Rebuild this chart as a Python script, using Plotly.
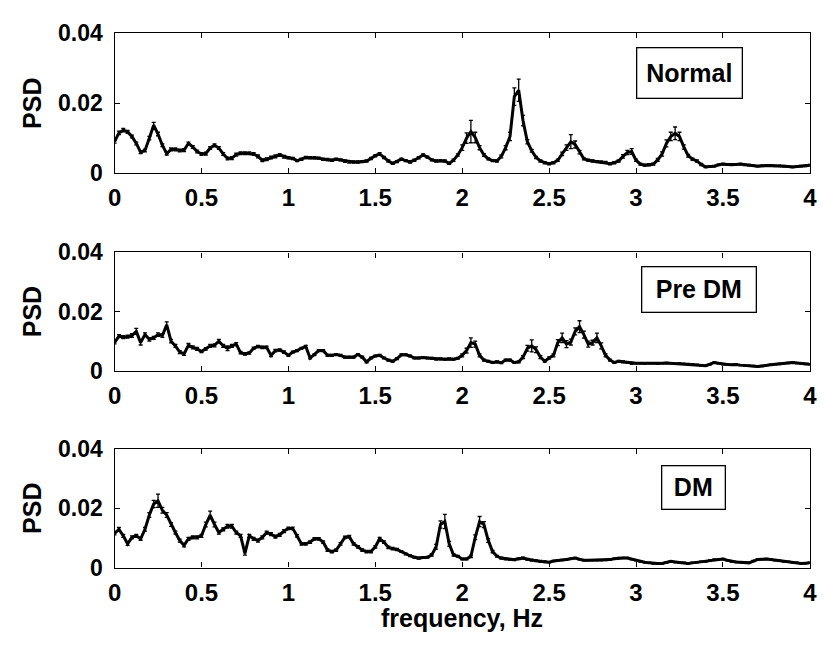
import plotly.graph_objects as go

# frequency grid (Hz), 0.025 Hz spacing
freq = [round(i * 0.025, 3) for i in range(161)]

psd_normal = [
    0.0090, 0.0115, 0.0123, 0.0118, 0.0105, 0.0085, 0.0060, 0.0065, 0.0100, 0.0137, 0.0112, 0.0080, 0.0056, 0.0068, 0.0068, 0.0065, 0.0066, 0.0085, 0.0075, 0.0062,
    0.0055, 0.0056, 0.0072, 0.0080, 0.0072, 0.0055, 0.0042, 0.0043, 0.0053, 0.0057, 0.0057, 0.0057, 0.0055, 0.0048, 0.0037, 0.0040, 0.0045, 0.0048, 0.0052, 0.0047,
    0.0044, 0.0042, 0.0036, 0.0040, 0.0045, 0.0044, 0.0044, 0.0043, 0.0040, 0.0039, 0.0037, 0.0040, 0.0038, 0.0034, 0.0032, 0.0032, 0.0032, 0.0033, 0.0035, 0.0042,
    0.0050, 0.0055, 0.0045, 0.0035, 0.0028, 0.0033, 0.0040, 0.0036, 0.0032, 0.0037, 0.0044, 0.0052, 0.0046, 0.0038, 0.0035, 0.0036, 0.0035, 0.0028, 0.0037, 0.0052,
    0.0073, 0.0100, 0.0119, 0.0102, 0.0073, 0.0052, 0.0041, 0.0036, 0.0035, 0.0048, 0.0073, 0.0105, 0.0219, 0.0237, 0.0150, 0.0090, 0.0064, 0.0045, 0.0035, 0.0030,
    0.0027, 0.0030, 0.0037, 0.0055, 0.0073, 0.0090, 0.0082, 0.0060, 0.0041, 0.0037, 0.0035, 0.0033, 0.0032, 0.0031, 0.0027, 0.0030, 0.0035, 0.0048, 0.0059, 0.0062,
    0.0037, 0.0026, 0.0023, 0.0024, 0.0026, 0.0038, 0.0055, 0.0085, 0.0105, 0.0114, 0.0105, 0.0075, 0.0050, 0.0040, 0.0035, 0.0025, 0.0018, 0.0019, 0.0020, 0.0024,
    0.0026, 0.0025, 0.0024, 0.0025, 0.0026, 0.0024, 0.0023, 0.0022, 0.0020, 0.0021, 0.0022, 0.0022, 0.0021, 0.0021, 0.0020, 0.0019, 0.0018, 0.0019, 0.0020, 0.0021, 0.0023,
]
err_normal = [
    0.0004, 0.0005, 0.0005, 0.0004, 0.0004, 0.0004, 0.0004, 0.0004, 0.0005, 0.0008, 0.0005, 0.0004, 0.0004, 0.0004, 0.0004, 0.0004, 0.0004, 0.0004, 0.0004, 0.0004,
    0.0004, 0.0004, 0.0004, 0.0004, 0.0004, 0.0004, 0.0004, 0.0004, 0.0004, 0.0004, 0.0004, 0.0004, 0.0004, 0.0004, 0.0004, 0.0004, 0.0004, 0.0004, 0.0004, 0.0004,
    0.0003, 0.0003, 0.0003, 0.0003, 0.0003, 0.0003, 0.0003, 0.0003, 0.0003, 0.0003, 0.0003, 0.0003, 0.0003, 0.0003, 0.0003, 0.0003, 0.0003, 0.0003, 0.0003, 0.0003,
    0.0003, 0.0004, 0.0003, 0.0003, 0.0003, 0.0003, 0.0003, 0.0003, 0.0003, 0.0003, 0.0003, 0.0003, 0.0003, 0.0003, 0.0003, 0.0003, 0.0003, 0.0003, 0.0003, 0.0003,
    0.0008, 0.0015, 0.0032, 0.0015, 0.0006, 0.0004, 0.0003, 0.0003, 0.0003, 0.0004, 0.0006, 0.0012, 0.0025, 0.0032, 0.0015, 0.0006, 0.0004, 0.0003, 0.0003, 0.0003,
    0.0003, 0.0003, 0.0003, 0.0005, 0.0008, 0.0020, 0.0010, 0.0005, 0.0003, 0.0003, 0.0003, 0.0003, 0.0003, 0.0003, 0.0003, 0.0003, 0.0003, 0.0005, 0.0006, 0.0008,
    0.0003, 0.0003, 0.0003, 0.0003, 0.0003, 0.0004, 0.0006, 0.0010, 0.0012, 0.0018, 0.0012, 0.0006, 0.0004, 0.0003, 0.0003, 0.0003, 0.0002, 0.0002, 0.0002, 0.0002,
    0.0002, 0.0002, 0.0002, 0.0002, 0.0002, 0.0002, 0.0002, 0.0002, 0.0002, 0.0002, 0.0002, 0.0002, 0.0002, 0.0002, 0.0002, 0.0002, 0.0002, 0.0002, 0.0002, 0.0002, 0.0002,
]

psd_predm = [
    0.0095, 0.0117, 0.0114, 0.0115, 0.0119, 0.0133, 0.0095, 0.0122, 0.0106, 0.0111, 0.0122, 0.0119, 0.0155, 0.0100, 0.0084, 0.0063, 0.0057, 0.0086, 0.0079, 0.0074,
    0.0065, 0.0074, 0.0084, 0.0086, 0.0100, 0.0084, 0.0076, 0.0084, 0.0090, 0.0061, 0.0057, 0.0060, 0.0076, 0.0082, 0.0079, 0.0079, 0.0052, 0.0068, 0.0070, 0.0063,
    0.0052, 0.0063, 0.0068, 0.0076, 0.0082, 0.0043, 0.0054, 0.0068, 0.0068, 0.0052, 0.0052, 0.0055, 0.0052, 0.0046, 0.0046, 0.0046, 0.0055, 0.0046, 0.0030, 0.0043,
    0.0050, 0.0052, 0.0043, 0.0036, 0.0032, 0.0041, 0.0054, 0.0054, 0.0050, 0.0043, 0.0043, 0.0045, 0.0043, 0.0042, 0.0039, 0.0040, 0.0039, 0.0040, 0.0039, 0.0042,
    0.0052, 0.0068, 0.0095, 0.0090, 0.0052, 0.0036, 0.0032, 0.0028, 0.0030, 0.0027, 0.0036, 0.0036, 0.0028, 0.0030, 0.0046, 0.0076, 0.0084, 0.0071, 0.0046, 0.0032,
    0.0043, 0.0052, 0.0095, 0.0111, 0.0090, 0.0097, 0.0133, 0.0149, 0.0122, 0.0090, 0.0095, 0.0111, 0.0084, 0.0052, 0.0036, 0.0028, 0.0032, 0.0030, 0.0028, 0.0025,
    0.0025, 0.0025, 0.0024, 0.0025, 0.0025, 0.0024, 0.0025, 0.0026, 0.0025, 0.0024, 0.0025, 0.0024, 0.0023, 0.0022, 0.0020, 0.0018, 0.0017, 0.0022, 0.0028, 0.0025,
    0.0022, 0.0021, 0.0020, 0.0021, 0.0019, 0.0018, 0.0017, 0.0016, 0.0014, 0.0016, 0.0019, 0.0020, 0.0022, 0.0023, 0.0025, 0.0026, 0.0028, 0.0026, 0.0025, 0.0023, 0.0022,
]
err_predm = [
    0.0004, 0.0005, 0.0005, 0.0005, 0.0006, 0.0010, 0.0008, 0.0006, 0.0006, 0.0005, 0.0006, 0.0006, 0.0010, 0.0006, 0.0005, 0.0005, 0.0005, 0.0006, 0.0005, 0.0005,
    0.0004, 0.0004, 0.0005, 0.0005, 0.0006, 0.0005, 0.0008, 0.0005, 0.0005, 0.0004, 0.0004, 0.0004, 0.0004, 0.0004, 0.0004, 0.0004, 0.0004, 0.0004, 0.0004, 0.0004,
    0.0003, 0.0003, 0.0003, 0.0003, 0.0004, 0.0003, 0.0003, 0.0003, 0.0003, 0.0003, 0.0003, 0.0003, 0.0003, 0.0003, 0.0003, 0.0003, 0.0003, 0.0003, 0.0003, 0.0003,
    0.0003, 0.0003, 0.0003, 0.0003, 0.0003, 0.0003, 0.0003, 0.0003, 0.0003, 0.0003, 0.0003, 0.0003, 0.0003, 0.0003, 0.0003, 0.0003, 0.0003, 0.0003, 0.0003, 0.0003,
    0.0005, 0.0008, 0.0016, 0.0010, 0.0005, 0.0003, 0.0003, 0.0003, 0.0003, 0.0003, 0.0003, 0.0003, 0.0003, 0.0003, 0.0005, 0.0010, 0.0020, 0.0010, 0.0005, 0.0003,
    0.0004, 0.0005, 0.0010, 0.0016, 0.0012, 0.0010, 0.0012, 0.0020, 0.0012, 0.0010, 0.0008, 0.0016, 0.0010, 0.0005, 0.0003, 0.0003, 0.0003, 0.0003, 0.0003, 0.0003,
    0.0002, 0.0002, 0.0002, 0.0002, 0.0002, 0.0002, 0.0002, 0.0002, 0.0002, 0.0002, 0.0002, 0.0002, 0.0002, 0.0002, 0.0002, 0.0002, 0.0002, 0.0002, 0.0002, 0.0002,
    0.0002, 0.0002, 0.0002, 0.0002, 0.0002, 0.0002, 0.0002, 0.0002, 0.0002, 0.0002, 0.0002, 0.0002, 0.0002, 0.0002, 0.0002, 0.0002, 0.0002, 0.0002, 0.0002, 0.0002, 0.0002,
]

psd_dm = [
    0.0115, 0.0129, 0.0107, 0.0080, 0.0102, 0.0107, 0.0097, 0.0129, 0.0177, 0.0214, 0.0225, 0.0193, 0.0177, 0.0145, 0.0118, 0.0091, 0.0075, 0.0097, 0.0102, 0.0102,
    0.0107, 0.0145, 0.0177, 0.0145, 0.0118, 0.0129, 0.0139, 0.0139, 0.0118, 0.0107, 0.0048, 0.0107, 0.0097, 0.0091, 0.0102, 0.0118, 0.0113, 0.0104, 0.0110, 0.0123,
    0.0132, 0.0132, 0.0107, 0.0080, 0.0080, 0.0086, 0.0097, 0.0097, 0.0086, 0.0059, 0.0054, 0.0059, 0.0080, 0.0102, 0.0104, 0.0080, 0.0070, 0.0059, 0.0054, 0.0054,
    0.0070, 0.0097, 0.0086, 0.0068, 0.0064, 0.0061, 0.0054, 0.0046, 0.0040, 0.0035, 0.0032, 0.0034, 0.0035, 0.0043, 0.0070, 0.0145, 0.0155, 0.0080, 0.0043, 0.0038,
    0.0029, 0.0029, 0.0038, 0.0102, 0.0155, 0.0145, 0.0091, 0.0054, 0.0038, 0.0032, 0.0029, 0.0028, 0.0027, 0.0030, 0.0032, 0.0028, 0.0025, 0.0023, 0.0021, 0.0020,
    0.0018, 0.0022, 0.0025, 0.0026, 0.0027, 0.0030, 0.0032, 0.0028, 0.0025, 0.0025, 0.0025, 0.0025, 0.0025, 0.0026, 0.0027, 0.0030, 0.0032, 0.0032, 0.0032, 0.0028,
    0.0025, 0.0021, 0.0018, 0.0016, 0.0014, 0.0014, 0.0014, 0.0017, 0.0021, 0.0019, 0.0018, 0.0016, 0.0014, 0.0016, 0.0018, 0.0020, 0.0021, 0.0024, 0.0027, 0.0028,
    0.0029, 0.0025, 0.0021, 0.0019, 0.0018, 0.0017, 0.0016, 0.0022, 0.0027, 0.0028, 0.0029, 0.0027, 0.0025, 0.0023, 0.0021, 0.0020, 0.0018, 0.0016, 0.0014, 0.0015, 0.0016,
]
err_dm = [
    0.0005, 0.0006, 0.0005, 0.0005, 0.0005, 0.0005, 0.0005, 0.0006, 0.0008, 0.0012, 0.0022, 0.0010, 0.0008, 0.0006, 0.0005, 0.0005, 0.0005, 0.0005, 0.0005, 0.0005,
    0.0005, 0.0008, 0.0013, 0.0008, 0.0005, 0.0005, 0.0006, 0.0006, 0.0005, 0.0005, 0.0006, 0.0005, 0.0005, 0.0005, 0.0005, 0.0005, 0.0005, 0.0005, 0.0005, 0.0005,
    0.0004, 0.0004, 0.0004, 0.0004, 0.0004, 0.0004, 0.0004, 0.0004, 0.0004, 0.0004, 0.0004, 0.0004, 0.0004, 0.0004, 0.0004, 0.0004, 0.0004, 0.0004, 0.0004, 0.0004,
    0.0004, 0.0005, 0.0004, 0.0004, 0.0004, 0.0004, 0.0003, 0.0003, 0.0003, 0.0003, 0.0003, 0.0003, 0.0003, 0.0004, 0.0008, 0.0012, 0.0024, 0.0008, 0.0004, 0.0003,
    0.0003, 0.0003, 0.0004, 0.0008, 0.0017, 0.0010, 0.0006, 0.0004, 0.0003, 0.0003, 0.0003, 0.0003, 0.0003, 0.0003, 0.0003, 0.0003, 0.0003, 0.0003, 0.0003, 0.0003,
    0.0002, 0.0002, 0.0002, 0.0002, 0.0002, 0.0002, 0.0002, 0.0002, 0.0002, 0.0002, 0.0002, 0.0002, 0.0002, 0.0002, 0.0002, 0.0002, 0.0002, 0.0002, 0.0002, 0.0002,
    0.0002, 0.0002, 0.0002, 0.0002, 0.0002, 0.0002, 0.0002, 0.0002, 0.0002, 0.0002, 0.0002, 0.0002, 0.0002, 0.0002, 0.0002, 0.0002, 0.0002, 0.0002, 0.0002, 0.0002,
    0.0002, 0.0002, 0.0002, 0.0002, 0.0002, 0.0002, 0.0002, 0.0002, 0.0002, 0.0002, 0.0002, 0.0002, 0.0002, 0.0002, 0.0002, 0.0002, 0.0002, 0.0002, 0.0002, 0.0002, 0.0002,
]

groups = ["Normal", "Pre DM", "DM"]
series = [psd_normal, psd_predm, psd_dm]
errors = [err_normal, err_predm, err_dm]

# the page body has an 8px margin, so the figure is drawn 8px in from the corner
OFF = 8
W, H = 825 - OFF, 650 - 2 * OFF
FONT = "Liberation Sans, Arial, sans-serif"


def px(x, y):
    return (x - OFF) / W, 1 - (y - OFF) / H


# panel boxes in window pixels (top, bottom) and label boxes (cx, cy, w, h)
x_left, x_right = 109.3, 816.7
panels_px = [(20.7, 166.7), (249.3, 372.7), (454.0, 578.0)]
boxes_px = [(694, 62.5, 106, 51), (704, 288, 115, 46), (698.7, 494.5, 64, 44)]

fig = go.Figure()
for i in range(3):
    n = "" if i == 0 else str(i + 1)
    fig.add_trace(go.Scatter(
        x=freq, y=series[i], mode="lines",
        line=dict(color="black", width=3),
        error_y=dict(type="data", array=errors[i], color="black", thickness=1.3, width=2),
        xaxis="x" + n, yaxis="y" + n, showlegend=False,
    ))
    top, bot = panels_px[i]
    fig.layout["xaxis" + n] = dict(
        domain=[px(x_left, 0)[0], px(x_right, 0)[0]], anchor="y" + n,
        range=[0, 4], tick0=0, dtick=0.5,
        ticks="inside", ticklen=5, tickwidth=1, tickcolor="black",
        showline=True, linecolor="black", linewidth=1.3, mirror="ticks",
        showgrid=False, zeroline=False, ticklabelstandoff=3,
        tickfont=dict(family=FONT, size=24, color="black", weight="bold"),
    )
    fig.layout["yaxis" + n] = dict(
        domain=[px(0, bot)[1], px(0, top)[1]], anchor="x" + n,
        range=[0, 0.04], tickvals=[0, 0.02, 0.04], ticktext=["0", "0.02", "0.04"],
        ticks="inside", ticklen=5, tickwidth=1, tickcolor="black",
        showline=True, linecolor="black", linewidth=1.3, mirror="ticks",
        showgrid=False, zeroline=False, ticklabelstandoff=6,
        tickfont=dict(family=FONT, size=23, color="black", weight="bold"),
    )
    ax, ay = px(25, (top + bot) / 2)
    fig.add_annotation(
        text="<b>PSD</b>", textangle=-90, x=ax, y=ay,
        xref="paper", yref="paper", xanchor="center", yanchor="middle",
        showarrow=False, font=dict(family=FONT, size=25, color="black"),
    )
    cx, cy, bw, bh = boxes_px[i]
    bx, by = px(cx, cy)
    fig.add_annotation(
        text="<b>" + groups[i] + "</b>", x=bx, y=by,
        xref="paper", yref="paper", xanchor="center", yanchor="middle",
        showarrow=False, width=bw - 2, height=bh - 2, borderpad=0,
        bordercolor="black", borderwidth=1.3, bgcolor="white",
        font=dict(family=FONT, size=25, color="black"),
    )

tx, ty = px(463, 631)
fig.add_annotation(
    text="<b>frequency, Hz</b>", x=tx, y=ty,
    xref="paper", yref="paper", xanchor="center", yanchor="middle",
    showarrow=False, font=dict(family=FONT, size=25, color="black"),
)

fig.update_layout(
    width=W, height=H, margin=dict(l=0, r=0, t=0, b=0),
    plot_bgcolor="white", paper_bgcolor="white",
)

fig.write_html("out.html")
